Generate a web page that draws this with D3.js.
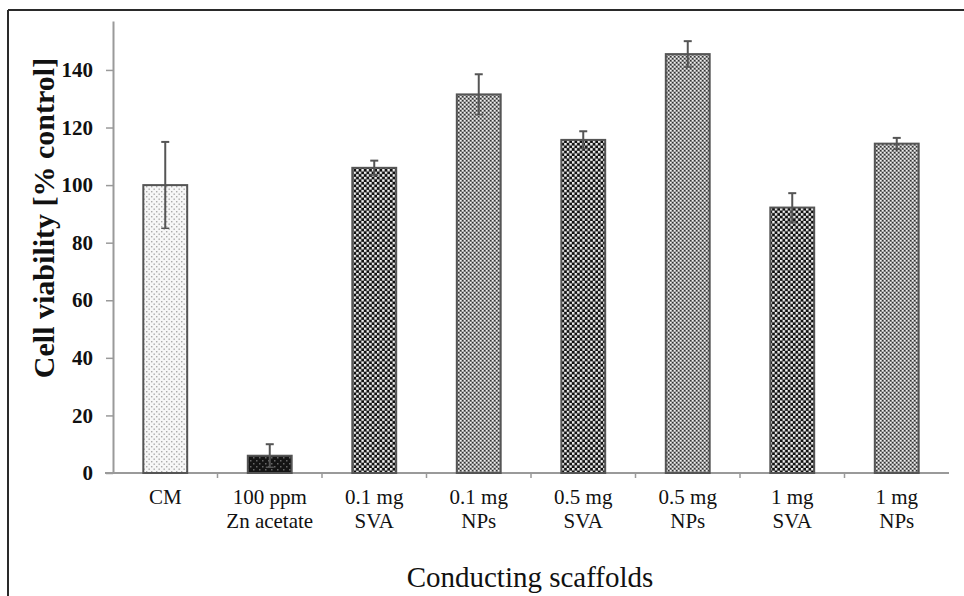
<!DOCTYPE html>
<html>
<head>
<meta charset="utf-8">
<script src="https://cdn.jsdelivr.net/npm/d3@7"></script>
<style>
  body { margin: 0; background: #fff; }
  svg text { font-family: "Liberation Serif", "DejaVu Serif", serif; }
</style>
</head>
<body>
<svg id="chart" width="964" height="596"></svg>
<script>
// data
var categories = ["CM", "Zn", "SVA01", "NPs01", "SVA05", "NPs05", "SVA1", "NPs1"]
var labelTop = ["CM", "100 ppm", "0.1 mg", "0.1 mg", "0.5 mg", "0.5 mg", "1 mg", "1 mg"]
var labelBottom = ["", "Zn acetate", "SVA", "NPs", "SVA", "NPs", "SVA", "NPs"]
var viability = [100, 6, 106, 131.5, 115.7, 145.5, 92.2, 114.4]
var errors = [15, 4, 2.5, 7, 3, 4.5, 5, 2]
var fillKind = ["cm", "zn", "sva", "nps", "sva", "nps", "sva", "nps"]
var yTicks = [0, 20, 40, 60, 80, 100, 120, 140]

var svg = d3.select("#chart")

// frame round the figure (top and left edges only show)
svg.append("line").attr("x1", 8).attr("y1", 10).attr("x2", 964).attr("y2", 10)
    .attr("stroke", "#2a2a2a").attr("stroke-width", 2)
svg.append("line").attr("x1", 8).attr("y1", 10).attr("x2", 8).attr("y2", 596)
    .attr("stroke", "#2a2a2a").attr("stroke-width", 2)

// fill patterns
var defs = svg.append("defs")

function makePattern(id, size, bg, dots) {
    var p = defs.append("pattern").attr("id", id)
        .attr("patternUnits", "userSpaceOnUse")
        .attr("width", size).attr("height", size)
    p.append("rect").attr("width", size).attr("height", size).attr("fill", bg)
    dots.forEach(function(d) {
        p.append("rect").attr("x", d[0]).attr("y", d[1])
            .attr("width", d[2]).attr("height", d[2]).attr("fill", d[3])
    })
}
makePattern("cm", 5, "#f7f7f7", [[1, 1, 1.4, "#aaa"], [3.5, 3.5, 1.4, "#aaa"]])
makePattern("zn", 6, "#141414", [[1, 1, 1.5, "#666"], [4, 4, 1.5, "#666"]])
makePattern("sva", 5.2, "#111", [[0, 0, 2.4, "#f2f2f2"], [2.6, 2.6, 2.4, "#f2f2f2"]])
makePattern("nps", 4, "#8a8a8a", [[0, 0, 1.5, "#f0f0f0"], [2, 2, 1.5, "#f0f0f0"], [2, 0, 1.2, "#333"], [0, 2, 1.2, "#333"]])

// scales
var x = d3.scaleBand().domain(categories).range([113, 949])
    .paddingInner(0.58).paddingOuter(0.29)
var y = d3.scaleLinear().domain([0, 157]).range([473, 21])

// y axis
var yAxis = svg.append("g").attr("transform", "translate(113,0)")
    .call(d3.axisLeft(y).tickValues(yTicks).tickSize(7).tickSizeOuter(0).tickPadding(13))
yAxis.select(".domain").attr("stroke", "#9a9a9a").attr("stroke-width", 2)
yAxis.selectAll(".tick line").attr("stroke", "#9a9a9a").attr("stroke-width", 1.5)
yAxis.selectAll(".tick text").attr("font-size", 21).attr("font-weight", "bold")
    .attr("fill", "#111").style("font-family", "Liberation Serif")

// baseline and category boundary ticks
svg.append("line").attr("x1", 105).attr("x2", 949).attr("y1", y(0)).attr("y2", y(0))
    .attr("stroke", "#9a9a9a").attr("stroke-width", 2)
var step = x.step()
svg.selectAll(".xtick").data(categories.slice(1)).enter().append("line")
    .attr("class", "xtick")
    .attr("x1", function(d) { return x(d) - step * x.paddingInner() / 2 })
    .attr("x2", function(d) { return x(d) - step * x.paddingInner() / 2 })
    .attr("y1", y(0)).attr("y2", y(0) + 5)
    .attr("stroke", "#9a9a9a").attr("stroke-width", 1.5)

// bars
svg.selectAll(".bar").data(categories).enter().append("rect")
    .attr("class", "bar")
    .attr("x", function(d) { return x(d) })
    .attr("width", x.bandwidth())
    .attr("y", function(d, i) { return y(viability[i]) })
    .attr("height", function(d, i) { return y(0) - y(viability[i]) })
    .attr("fill", function(d, i) { return "url(#" + fillKind[i] + ")" })
    .attr("stroke", "#555").attr("stroke-width", 2)

// error bars
var cap = 4
categories.forEach(function(c, i) {
    var cx = x(c) + x.bandwidth() / 2
    var hi = y(viability[i] + errors[i])
    var lo = y(viability[i] - errors[i])
    svg.append("line").attr("x1", cx).attr("x2", cx).attr("y1", hi).attr("y2", lo)
        .attr("stroke", "#555").attr("stroke-width", 2)
    svg.append("line").attr("x1", cx - cap).attr("x2", cx + cap).attr("y1", hi).attr("y2", hi)
        .attr("stroke", "#555").attr("stroke-width", 2)
    svg.append("line").attr("x1", cx - cap).attr("x2", cx + cap).attr("y1", lo).attr("y2", lo)
        .attr("stroke", "#555").attr("stroke-width", 1.5)
})

// category labels
var labels = svg.selectAll(".cat").data(categories).enter().append("text")
    .attr("class", "cat")
    .attr("text-anchor", "middle")
    .attr("font-size", 21)
    .attr("fill", "#111")
labels.append("tspan")
    .attr("x", function(d) { return x(d) + x.bandwidth() / 2 })
    .attr("y", 504)
    .text(function(d, i) { return labelTop[i] })
labels.append("tspan")
    .attr("x", function(d) { return x(d) + x.bandwidth() / 2 })
    .attr("y", 528)
    .text(function(d, i) { return labelBottom[i] })

// axis titles
svg.append("text").attr("x", 530).attr("y", 587)
    .attr("text-anchor", "middle").attr("font-size", 29).attr("fill", "#111")
    .text("Conducting scaffolds")
svg.append("text")
    .attr("transform", "translate(54,218) rotate(-90)")
    .attr("text-anchor", "middle").attr("font-size", 30).attr("font-weight", "bold")
    .attr("fill", "#111")
    .text("Cell viability [% control]")
</script>
</body>
</html>
